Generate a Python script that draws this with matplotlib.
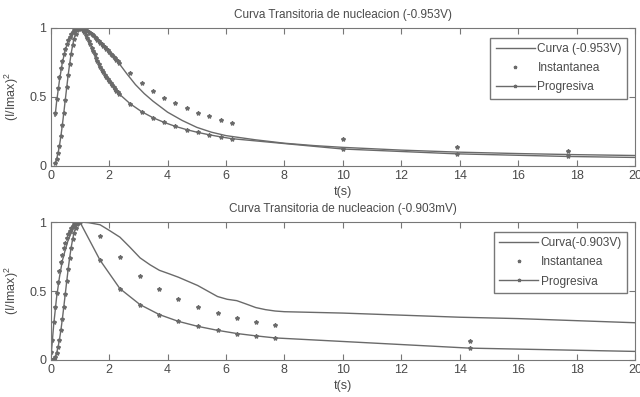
import matplotlib
matplotlib.use("Agg")
import matplotlib.pyplot as plt

plt.rcParams['font.family'] = ['Liberation Sans Narrow', 'Liberation Sans', 'DejaVu Sans']
plt.rcParams['mathtext.default'] = 'regular'

# ---- datos (-0.953V) ----
t_top = [0.15, 0.20, 0.25, 0.30, 0.35, 0.40, 0.45, 0.50, 0.55, 0.60,
         0.65, 0.70, 0.75, 0.80, 0.85, 0.90, 0.95, 1.00, 1.05, 1.10,
         1.15, 1.20, 1.25, 1.30, 1.35, 1.40, 1.45, 1.50, 1.55, 1.60,
         1.65, 1.70, 1.75, 1.80, 1.85, 1.90, 1.95, 2.00, 2.05, 2.10,
         2.15, 2.20, 2.25, 2.30, 2.35,
         2.72, 3.11, 3.50, 3.88, 4.27, 4.66, 5.04, 5.43, 5.82, 6.20,
         10.0, 13.9, 17.7, 21.6]
inst_top = [0.385, 0.482, 0.568, 0.642, 0.707, 0.762, 0.810, 0.850, 0.884, 0.913,
            0.936, 0.955, 0.971, 0.982, 0.990, 0.996, 0.999, 1.000, 0.999, 0.996,
            0.992, 0.987, 0.981, 0.973, 0.965, 0.957, 0.947, 0.937, 0.927, 0.916,
            0.905, 0.894, 0.883, 0.871, 0.860, 0.848, 0.837, 0.825, 0.814, 0.802,
            0.791, 0.780, 0.769, 0.758, 0.747,
            0.674, 0.603, 0.545, 0.496, 0.453, 0.417, 0.386, 0.359, 0.335, 0.315,
            0.195, 0.141, 0.110, 0.090]
prog_top = [0.021, 0.049, 0.091, 0.147, 0.217, 0.298, 0.387, 0.480, 0.572, 0.661,
            0.742, 0.814, 0.874, 0.922, 0.958, 0.982, 0.996, 1.000, 0.996, 0.986,
            0.971, 0.952, 0.930, 0.907, 0.882, 0.857, 0.833, 0.808, 0.785, 0.762,
            0.740, 0.719, 0.699, 0.680, 0.662, 0.645, 0.628, 0.613, 0.598, 0.584,
            0.570, 0.557, 0.545, 0.533, 0.521,
            0.451, 0.394, 0.350, 0.316, 0.287, 0.263, 0.243, 0.226, 0.211, 0.198,
            0.123, 0.088, 0.069, 0.057]
curva_t_top = [0.15, 0.2, 0.3, 0.4, 0.5, 0.6, 0.7, 0.8, 0.9, 1.0, 1.2, 1.4, 1.6, 1.8,
               2.0, 2.3, 2.6, 2.9, 3.2, 3.5, 4.0, 4.5, 5.0, 5.5, 6.0, 6.5, 7.0,
               8.0, 9.0, 10.0, 12.0, 14.0, 16.0, 18.0, 20.0]
curva_top = [0.36, 0.46, 0.62, 0.75, 0.84, 0.905, 0.95, 0.98, 0.995, 1.0, 0.985, 0.955,
             0.915, 0.87, 0.825, 0.755, 0.67, 0.59, 0.525, 0.47, 0.39, 0.33, 0.28,
             0.245, 0.22, 0.205, 0.19, 0.165, 0.148, 0.135, 0.115, 0.10, 0.09,
             0.082, 0.076]

# ---- datos (-0.903V) ----
t_bot = [0.02, 0.05, 0.10, 0.15, 0.20, 0.25, 0.30, 0.35, 0.40, 0.45, 0.50,
         0.55, 0.60, 0.65, 0.70, 0.75, 0.80, 0.85, 0.90, 0.95, 1.00,
         1.69, 2.37, 3.06, 3.72, 4.37, 5.03, 5.71, 6.37, 7.02, 7.68,
         14.34, 21.0]
inst_bot = [0.060, 0.145, 0.272, 0.385, 0.482, 0.568, 0.642, 0.707, 0.762, 0.810, 0.850,
            0.884, 0.913, 0.936, 0.955, 0.971, 0.982, 0.990, 0.996, 0.999, 1.000,
            0.896, 0.743, 0.612, 0.516, 0.444, 0.387, 0.342, 0.306, 0.278, 0.254,
            0.136, 0.093]
prog_bot = [0.000, 0.001, 0.007, 0.021, 0.049, 0.091, 0.147, 0.217, 0.298, 0.387, 0.480,
            0.572, 0.661, 0.742, 0.814, 0.874, 0.922, 0.958, 0.982, 0.996, 1.000,
            0.723, 0.517, 0.401, 0.329, 0.280, 0.244, 0.215, 0.192, 0.175, 0.160,
            0.086, 0.058]
curva_t_bot = [0.0, 0.05, 0.1, 0.2, 0.3, 0.4, 0.5, 0.6, 0.7, 0.8, 0.9, 1.0, 1.3, 1.69,
               2.0, 2.37, 2.7, 3.06, 3.4, 3.72, 4.05, 4.37, 4.7, 5.03, 5.37, 5.71,
               6.04, 6.37, 6.7, 7.02, 7.35, 7.68, 8.0, 9.0, 10.0, 12.0, 14.0, 16.0,
               18.0, 20.0]
curva_bot = [0.0, 0.12, 0.25, 0.45, 0.60, 0.72, 0.80, 0.87, 0.92, 0.96, 0.99, 1.0, 0.995,
             0.98, 0.94, 0.89, 0.82, 0.74, 0.69, 0.65, 0.625, 0.60, 0.57, 0.54, 0.50,
             0.46, 0.44, 0.43, 0.405, 0.38, 0.365, 0.355, 0.35, 0.345, 0.34, 0.325,
             0.31, 0.30, 0.285, 0.27]

gris = '#6a6a6a'
texto = '#4a4a4a'
fs = 9


def panel(ax, t, inst, prog, ct, curva, titulo, etiqueta):
    ax.plot(ct, curva, '-', color=gris, lw=1.0, label=etiqueta)
    ax.plot(t, inst, '*', color=gris, ms=3, label='Instantanea')
    ax.plot(t, prog, '-*', color=gris, lw=1.0, ms=3, label='Progresiva')
    ax.set_xlim(0, 20)
    ax.set_ylim(0, 1)
    ax.set_xticks(range(0, 21, 2))
    ax.set_yticks([0, 0.5, 1])
    ax.set_yticklabels(['0', '0.5', '1'])
    ax.tick_params(direction='in', top=True, right=True, length=4,
                   colors='#777777', labelcolor=texto, labelsize=fs, pad=3)
    for s in ax.spines.values():
        s.set_color('#777777')
    ax.set_title(titulo, fontsize=8.5, color=texto, pad=7)
    ax.set_xlabel('t(s)', fontsize=fs, color=texto, labelpad=3)
    ax.set_ylabel('(I/Imax)$^2$', fontsize=fs, color=texto, labelpad=6)
    leg = ax.legend(loc='upper right', bbox_to_anchor=(0.993, 0.955), fontsize=8.6,
                    frameon=True, fancybox=False, handlelength=3.3,
                    handletextpad=0.2, borderpad=0.45, borderaxespad=0.3,
                    labelspacing=0.6, markerscale=0.8)
    leg.get_frame().set_edgecolor('#555555')
    leg.get_frame().set_linewidth(1.0)
    for txt in leg.get_texts():
        txt.set_color(texto)


fig = plt.figure(figsize=(6.4, 3.97), dpi=100)
ax1 = fig.add_axes([0.0792, 0.5819, 0.913, 0.3476])
ax2 = fig.add_axes([0.0792, 0.0932, 0.913, 0.3476])

panel(ax1, t_top, inst_top, prog_top, curva_t_top, curva_top,
      'Curva Transitoria de nucleacion (-0.953V)', 'Curva (-0.953V)')
panel(ax2, t_bot, inst_bot, prog_bot, curva_t_bot, curva_bot,
      'Curva Transitoria de nucleacion (-0.903mV)', 'Curva(-0.903V)')

fig.savefig('out.png', dpi=100)
